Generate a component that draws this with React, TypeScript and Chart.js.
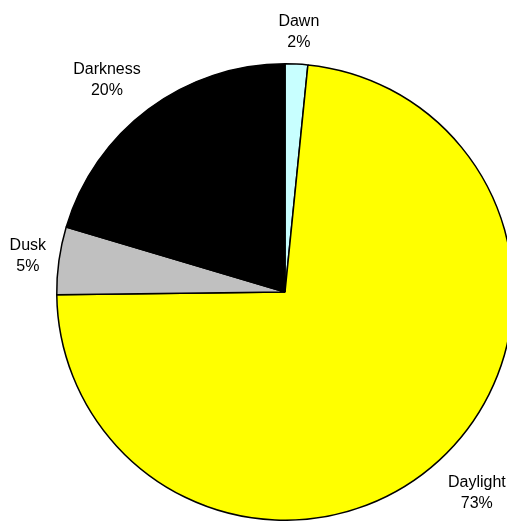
import React, { useEffect, useRef } from "react";
import { Chart, registerables } from "chart.js";

Chart.register(...registerables);

const categories = ["Dawn", "Daylight", "Dusk", "Darkness"];
const values = [1.6, 73.2, 4.8, 20.4];
const colors = ["#C8FFFF", "#FFFF00", "#C0C0C0", "#000000"];

const FONT = "16px 'Liberation Sans', Arial, sans-serif";
const LINE_H = 21;
const GAP = 13;
const K = 1.7;

const clamp = (v: number) => Math.max(-1, Math.min(1, v));

const outsideLabels = {
  id: "outsideLabels",
  afterDatasetsDraw(chart: any) {
    const ctx = chart.ctx;
    const meta = chart.getDatasetMeta(0);
    const data = chart.data.datasets[0].data as number[];
    const total = data.reduce((a, b) => a + b, 0);
    ctx.save();
    ctx.font = FONT;
    ctx.fillStyle = "#000";
    ctx.textAlign = "center";
    ctx.textBaseline = "middle";
    meta.data.forEach((arc: any, i: number) => {
      const p = arc.getProps(["x", "y", "startAngle", "endAngle", "outerRadius"], true);
      const a = (p.startAngle + p.endAngle) / 2;
      const dx = Math.cos(a);
      const dy = Math.sin(a);
      const lines = [String(chart.data.labels[i]), Math.round((data[i] / total) * 100) + "%"];
      const halfW = Math.max(...lines.map((l) => ctx.measureText(l).width)) / 2;
      const halfH = LINE_H;
      const d = p.outerRadius + GAP;
      const cx = p.x + dx * d + clamp(dx * K) * halfW;
      const cy = p.y + dy * d + clamp(dy * K) * halfH + 2;
      ctx.fillText(lines[0], cx, cy - LINE_H / 2);
      ctx.fillText(lines[1], cx, cy + LINE_H / 2);
    });
    ctx.restore();
  },
};

export default function App() {
  const ref = useRef<HTMLCanvasElement>(null);
  useEffect(() => {
    if (!ref.current) return;
    const chart = new Chart(ref.current, {
      type: "pie",
      data: {
        labels: categories,
        datasets: [
          {
            data: values,
            backgroundColor: colors,
            borderColor: "#000",
            borderWidth: 1.5,
          },
        ],
      },
      options: {
        responsive: false,
        animation: false,
        layout: { padding: { top: 63, bottom: 0, left: 0, right: 0 } },
        plugins: {
          legend: { display: false },
          tooltip: { enabled: false },
        },
      },
      plugins: [outsideLabels],
    });
    return () => chart.destroy();
  }, []);
  return (
    <div
      style={{
        position: "absolute",
        left: 0,
        top: 0,
        width: 507,
        height: 521,
        overflow: "hidden",
        background: "#fff",
      }}
    >
      <canvas ref={ref} width={570} height={521} style={{ display: "block" }} />
    </div>
  );
}
